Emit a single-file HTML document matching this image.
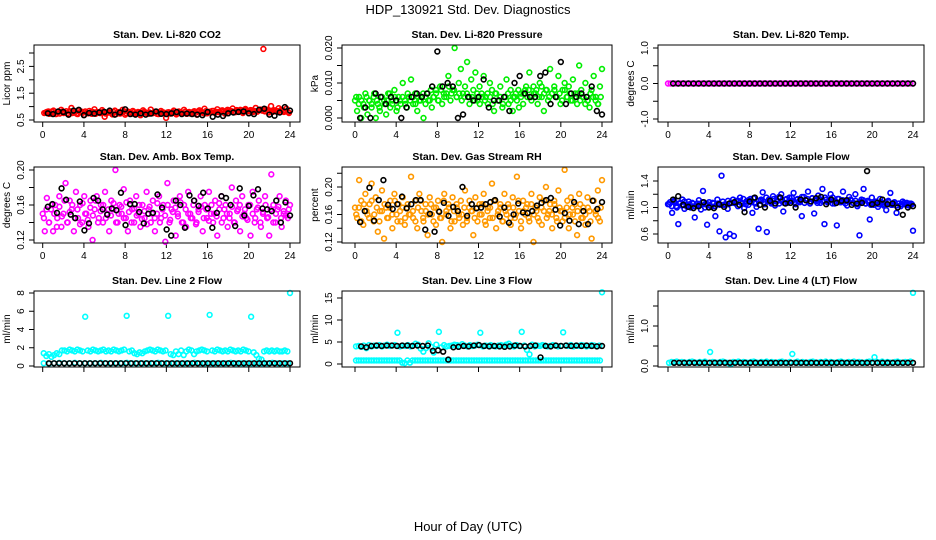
<!DOCTYPE html>
<html><head><meta charset="utf-8"><style>
html,body{margin:0;padding:0;background:#fff;}
svg{display:block;font-family:"Liberation Sans",sans-serif;}
</style></head><body>
<svg id="chart" width="936" height="540" viewBox="0 0 936 540" xmlns="http://www.w3.org/2000/svg">
<text x="468" y="14" font-size="13" text-anchor="middle">HDP_130921  Std. Dev. Diagnostics</text>
<text x="468" y="531" font-size="13" text-anchor="middle">Hour of Day (UTC)</text>
</svg>
<script>
const xTicks=[0,4,8,12,16,20,24];
const co2Red=[.78,.82,.75,.85,.72,.80,.88,.76,.83,.70,.95,.79,.74,.86,.81,.69,.77,.84,.73,.90,.80,.76,.87,.62,.78,.83,.71,.85,.79,.74,.88,.70,.82,.77,.84,.75,.80,.68,.86,.78,.73,.89,.76,.81,.72,.84,.78,.58,.79,.74,.85,.71,.82,.77,.88,.73,.80,.76,.83,.70,.86,.78,.92,.75,.81,.84,.77,.90,.80,.86,.74,.88,.82,.93,.79,.85,.88,.76,.91,.83,.87,.80,.95,.84,.89,3.15,.90,.78,1.02,.86,.82,.94,.88,.80,.92,.76];
const co2Red2=[.76,.8,.73,.82,.77,.79,.74,.81,.78,.75,.83,.76,.79,.72,.8,.77,.82,.75,.78,.8,.73,.79,.76,.81,.74,.78,.77,.8,.72,.79,.76,.82,.75,.78,.73,.8,.77,.79,.74,.81,.76,.78,.75,.8,.73,.77,.79,.76,.78,.74,.8,.77,.75,.79,.76,.81,.78,.74,.8,.77,.82,.79,.76,.83,.8,.78,.84,.81,.79,.85,.82,.8,.86,.83,.81,.87,.84,.82,.88,.85,.83,.86,.84,.81,.88,.85,.82,.87,.84,.8,.86,.83,.81,.85,.82,.8];
const co2Black=[.75,.72,.82,.80,.70,.85,.88,.68,.76,.74,.78,.80,.85,.70,.78,.90,.72,.70,.75,.70,.74,.82,.73,.72,.75,.80,.72,.74,.72,.70,.68,.80,.62,.70,.65,.75,.78,.80,.82,.75,.72,.88,.92,.70,.66,.78,.98,.85];
const presGreen=[.005,.002,.006,0,.004,.007,.001,.005,.003,.006,0,.004,.002,.006,.005,.001,.007,.003,.005,.008,.002,.006,.004,.010,.005,.003,.006,.011,.004,.007,.002,.005,.006,0,.004,.007,.005,.003,.006,.008,.005,.009,.004,.006,.007,.012,.005,.008,.020,.006,.010,.014,.007,.009,.016,.006,.011,.008,.013,.005,.009,.007,.012,.006,.004,.010,.008,.002,.007,.005,.009,.003,.006,.011,.004,.008,.002,.006,.005,.003,.007,.004,.008,.006,.013,.005,.009,.007,.004,.010,.006,.002,.008,.005,.014,.007,.009,.006,.012,.004,.008,.010,.006,.009,.005,.011,.007,.004,.015,.008,.006,.010,.005,.003,.008,.012,.006,.004,.009,.014];
const presGreen2=[.006,.004,.005,.003,.006,.005,.004,.007,.005,.003,.006,.004,.005,.007,.004,.006,.003,.005,.006,.004,.007,.005,.006,.004,.006,.005,.007,.006,.005,.008,.006,.007,.005,.008,.007,.006,.009,.007,.008,.006,.007,.005,.006,.007,.004,.006,.005,.007,.004,.006,.005,.007,.006,.004,.007,.005,.006,.004,.006,.007,.005,.006,.007,.008,.006,.007,.009,.008,.006,.007,.008,.006,.009,.007,.008,.006,.007,.008,.006,.007,.005,.008,.006,.007,.005,.006,.007,.005,.006,.004,.005,.007,.006,.005,.004,.006];
const presBlack=[0,.003,0,.007,.006,.004,.006,.005,0,.003,.006,.007,.006,.007,.009,.019,.009,.010,.009,0,.001,.006,.005,.006,.011,.003,.005,.005,.006,.002,.010,.012,.007,.006,.006,.012,.013,.004,.006,.016,.004,.007,.006,.007,.006,.009,.002,.001];
const tempMag=[0,0,0,0,0,0,0,0,0,0,0,0,0,0,0,0,0,0,0,0,0,0,0,0,0,0,0,0,0,0,0,0,0,0,0,0,0,0,0,0,0,0,0,0,0,0,0,0,0,0,0,0,0,0,0,0,0,0,0,0,0,0,0,0,0,0,0,0,0,0,0,0,0,0,0,0,0,0,0,0,0,0,0,0,0,0,0,0,0,0,0,0,0,0,0,0];
const tempBlack=[0,0,0,0,0,0,0,0,0,0,0,0,0,0,0,0,0,0,0,0,0,0,0,0,0,0,0,0,0,0,0,0,0,0,0,0,0,0,0,0,0,0,0,0,0,0,0,0];
const boxMag=[.15,.13,.168,.14,.155,.13,.16,.145,.17,.135,.15,.185,.14,.165,.155,.13,.175,.145,.16,.14,.17,.15,.135,.165,.12,.155,.17,.145,.16,.14,.175,.15,.13,.165,.155,.20,.14,.16,.15,.178,.145,.13,.165,.155,.14,.17,.15,.135,.16,.145,.175,.155,.14,.165,.13,.15,.17,.145,.16,.118,.185,.14,.155,.165,.125,.15,.17,.14,.16,.135,.175,.15,.145,.165,.14,.155,.17,.13,.16,.145,.175,.15,.14,.165,.125,.155,.17,.145,.16,.135,.15,.18,.14,.165,.155,.13,.17,.15,.145,.16,.125,.175,.14,.155,.165,.135,.15,.17,.145,.125,.195,.16,.14,.155,.17,.135,.15,.165,.145,.16];
const boxMag2=[.145,.155,.14,.16,.15,.135,.158,.147,.165,.14,.152,.16,.145,.155,.138,.162,.15,.143,.157,.148,.165,.14,.153,.16,.145,.155,.148,.162,.14,.15,.158,.145,.163,.152,.14,.156,.148,.16,.144,.153,.138,.158,.15,.145,.162,.14,.155,.148,.16,.143,.152,.157,.147,.163,.14,.155,.15,.145,.16,.138,.152,.158,.145,.155,.142,.16,.15,.147,.162,.14,.155,.15,.145,.158,.14,.153,.16,.147,.155,.143,.16,.15,.145,.157,.14,.152,.16,.146,.155,.14,.15,.158,.145,.153,.148,.155];
const boxBlack=[.158,.161,.151,.179,.166,.149,.145,.164,.131,.139,.168,.165,.155,.149,.156,.154,.174,.137,.161,.161,.152,.139,.150,.151,.172,.157,.132,.125,.165,.160,.134,.171,.165,.159,.174,.156,.134,.151,.170,.168,.160,.136,.179,.148,.159,.171,.178,.156,.155,.153,.165,.140,.163,.148];
const rhOrange=[.17,.155,.21,.18,.145,.19,.16,.175,.205,.15,.185,.135,.165,.195,.125,.17,.155,.18,.14,.19,.16,.175,.15,.185,.145,.17,.16,.215,.155,.18,.14,.19,.165,.15,.175,.13,.185,.16,.17,.145,.18,.155,.12,.19,.165,.175,.14,.185,.15,.17,.16,.18,.145,.195,.155,.17,.165,.13,.185,.15,.175,.16,.19,.145,.17,.155,.205,.18,.14,.165,.175,.15,.19,.16,.17,.145,.185,.155,.215,.165,.14,.18,.16,.175,.15,.19,.12,.17,.155,.185,.145,.165,.2,.16,.175,.14,.18,.155,.195,.165,.15,.225,.17,.14,.185,.16,.175,.13,.19,.155,.17,.145,.185,.165,.125,.18,.16,.195,.15,.21];
const rhOrange2=[.16,.17,.15,.175,.165,.155,.18,.16,.17,.15,.165,.175,.155,.17,.16,.18,.15,.165,.17,.155,.175,.16,.165,.15,.17,.18,.155,.165,.16,.175,.15,.17,.165,.155,.18,.16,.17,.15,.165,.175,.155,.16,.17,.15,.18,.165,.155,.17,.16,.175,.15,.165,.17,.155,.18,.16,.17,.15,.165,.175,.155,.17,.16,.18,.15,.165,.17,.155,.175,.16,.165,.15,.17,.18,.155,.165,.16,.175,.15,.17,.165,.155,.18,.16,.17,.15,.165,.175,.155,.16,.17,.15,.18,.165,.155,.17];
const rhBlack=[.149,.165,.199,.151,.181,.21,.174,.168,.175,.186,.169,.175,.181,.181,.138,.161,.135,.164,.177,.158,.171,.165,.2,.158,.175,.169,.17,.175,.178,.181,.157,.17,.148,.16,.176,.163,.162,.165,.173,.177,.181,.184,.167,.144,.162,.151,.178,.146,.165,.146,.18,.168,.178];
const flowBlue=[1.05,1.08,.92,1.1,1.02,.75,1.07,1.12,.98,1.04,1.09,1.0,1.06,.85,1.03,1.11,.97,1.25,1.05,.74,1.08,1.01,1.06,.87,1.12,.64,1.48,1.04,.55,.98,.6,1.07,.57,1.1,1.02,1.15,1.06,.99,1.09,1.04,1.13,.92,1.07,1.01,.68,1.1,1.23,1.05,.63,1.12,1.08,1.17,1.03,1.1,1.06,1.2,.94,1.12,1.07,1.15,1.1,1.22,1.05,1.13,1.08,.87,1.16,1.11,1.24,1.06,1.14,.91,1.1,1.18,1.07,1.28,.75,1.12,1.09,1.2,1.15,1.06,.73,1.13,1.08,1.24,1.1,1.03,1.16,1.11,1.07,1.2,1.02,.58,1.12,1.28,1.06,1.1,.82,1.15,1.04,1.09,1.01,1.13,1.07,1.05,.96,1.1,1.22,1.04,1.08,.92,1.06,1.02,1.09,1.05,1.07,1.03,1.06,.65];
const flowBlue2=[1.05,1.02,1.08,1.0,1.06,1.03,1.09,1.01,1.05,1.07,1.02,1.06,1.04,1.08,1.0,1.05,1.03,1.07,1.02,1.06,1.04,1.09,1.05,1.1,1.07,1.12,1.06,1.1,1.08,1.13,1.05,1.11,1.08,1.14,1.06,1.1,1.12,1.08,1.15,1.1,1.06,1.13,1.09,1.16,1.1,1.07,1.13,1.1,1.15,1.08,1.12,1.1,1.16,1.07,1.13,1.09,1.14,1.11,1.07,1.12,1.1,1.15,1.08,1.12,1.06,1.1,1.13,1.08,1.11,1.06,1.1,1.12,1.07,1.1,1.05,1.09,1.11,1.06,1.08,1.04,1.07,1.09,1.05,1.08,1.03,1.06,1.08,1.04,1.07,1.03,1.06,1.05,1.07,1.04,1.06,1.05];
const flowBlack=[1.12,1.17,1.04,1.01,.99,1.02,1.08,1.0,.99,1.05,1.01,1.06,1.08,1.04,.93,1.09,1.15,1.04,1.0,1.1,1.06,1.15,1.06,1.07,1.0,1.12,1.11,1.09,1.14,1.16,1.05,1.12,1.07,1.1,1.11,1.04,1.06,1.07,1.55,1.05,1.07,1.12,1.05,1.06,1.0,.89,1.0,1.02];
const line2Cyan=[1.4,1.1,1.3,1.0,1.2,1.4,1.3,1.7,1.7,1.6,1.8,1.7,1.6,1.8,1.7,1.6,5.4,1.7,1.6,1.8,1.7,1.6,1.7,1.8,1.6,1.7,1.6,1.8,1.7,1.6,1.7,1.8,5.5,1.6,1.7,1.4,1.3,1.5,1.4,1.6,1.7,1.8,1.7,1.6,1.8,1.7,1.6,1.7,5.5,1.3,1.2,1.6,1.3,1.7,1.2,1.6,1.8,1.7,1.3,1.6,1.7,1.8,1.7,1.6,5.6,1.7,1.6,1.8,1.7,1.6,1.7,1.6,1.8,1.7,1.6,1.7,1.6,1.8,1.7,1.6,5.4,1.5,1.2,0.8,0.7,1.6,1.7,1.6,1.7,1.6,1.7,1.6,1.6,1.7,1.6,8.0];
const line2CyanLow=[.3,.25,.3,.35,.3,.3,.35,.3,.3,.3,.3,.35,.3,.3,.3,.3,.35,.3,.3,.3,.3,.3,.35,.3,.3,.3,.3,.3,.3,.35,.3,.3,.3,.3,.3,.3,.35,.3,.3,.3,.3,.3,.3,.3,.35,.3,.3,.3];
const line2Black=[.3,.3,.3,.3,.3,.3,.3,.3,.3,.3,.3,.3,.3,.3,.3,.3,.3,.3,.3,.3,.3,.3,.3,.3,.3,.3,.3,.3,.3,.3,.3,.3,.3,.3,.3,.3,.3,.3,.3,.3,.3,.3,.3,.3,.3,.3,.3,.3];
const line3CyanHigh=[4,4.1,3.9,4.2,3.6,4.3,4,4.2,4.1,4.3,4,4.2,4.4,4.1,4.2,4.3,7.1,4,4.2,4.1,4.3,4,4.2,4.6,4.4,3.5,2.8,3.6,4.7,3.9,2.6,4.4,7.3,3.8,4.3,4,4.1,4.2,4.4,4.3,4.1,4.5,4.2,4,4.3,4.1,4.2,4.4,7.1,4,4.2,4.1,4.3,4.1,4,4.2,4.3,4.1,4.4,4.6,4.2,4,4.3,4.1,7.3,4.2,3.2,2.2,4.4,4,4.2,4.1,4.3,4.2,4,4.1,4.3,4.2,4,4.1,7.2,4.2,4.1,4.3,4,4.2,4.1,4.3,4.2,4,4.1,4.3,4.2,4,4.2,16.3];
const line3CyanLow=[.8,.8,.8,.8,.8,.8,.8,.8,.8,.8,.8,.8,.8,.8,.8,.8,.8,.8,.3,.2,.8,.3,.8,.8,.8,.8,.8,.8,.8,.8,.8,.8,.8,.8,.8,.8,.8,.8,.8,.8,.8,.8,.8,.8,.8,.8,.8,.8,.8,.8,.8,.8,.8,.8,.8,.8,.8,.8,.8,.8,.8,.8,.8,.8,.8,.8,.8,.8,.8,.8,.8,.8,.8,.8,.8,.8,.8,.8,.8,.8,.8,.8,.8,.8,.8,.8,.8,.8,.8,.8,.8,.8,.8,.8,.8,.8];
const line3Black=[4,3.8,4.1,4.2,4.1,4.2,4.2,4.1,4.2,4.2,4.1,4.2,4.1,4.2,3,3.1,2.8,1,3.8,3.9,4.1,4,4.2,4.3,4.1,4,4.1,4,3.9,4,4.2,4.1,4,4.1,4.2,1.5,4.1,4,4.2,4.1,4.2,4.1,4.2,4.1,4.2,4.1,4,4.1];
const line4Cyan=[.08,.1,.09,.11,.08,.1,.09,.08,.1,.11,.09,.08,.1,.09,.11,.08,.35,.1,.09,.08,.1,.11,.09,.08,.04,.1,.09,.11,.08,.1,.09,.08,.1,.11,.09,.08,.1,.09,.11,.08,.1,.09,.08,.1,.11,.09,.08,.1,.3,.09,.11,.08,.1,.09,.08,.1,.11,.09,.08,.1,.09,.11,.08,.1,.09,.08,.1,.11,.09,.08,.1,.09,.11,.08,.1,.09,.08,.1,.11,.09,.22,.1,.09,.11,.08,.1,.09,.08,.1,.11,.09,.08,.1,.09,.11,1.83];
const line4Black=[.08,.08,.08,.08,.08,.08,.08,.08,.08,.08,.08,.08,.08,.08,.08,.08,.08,.08,.08,.08,.08,.08,.08,.08,.08,.08,.08,.08,.08,.08,.08,.08,.08,.08,.08,.08,.08,.08,.08,.08,.08,.08,.08,.08,.08,.08,.08,.08];

const NS="http://www.w3.org/2000/svg";
const svg=document.getElementById('chart');
function mk(tag,attrs,parent){const e=document.createElementNS(NS,tag);for(const k in attrs)e.setAttribute(k,attrs[k]);(parent||svg).appendChild(e);return e;}

const cols=[{l:34,r:300,x0:42.7,x24:290},{l:342,r:612,x0:355,x24:602},{l:658,r:924,x0:668,x24:913}];
const rows=[{t:45,b:122},{t:167,b:243},{t:291,b:367}];
const panels=[
 {key:'co2',title:'Stan. Dev. Li-820 CO2',ylab:'Licor ppm',c:0,r:0,ya:0.5,pa:120,yb:3.0,pb:53,ticks:[0.5,1,1.5,2,2.5,3],labs:['0.5','1.5','2.5'],labv:[0.5,1.5,2.5],series:[[co2Red,'#ff0000',0.3,23.9],[co2Red2,'#ff0000',0.15,23.8],[co2Black,'#000',0.5,24]]},
 {key:'pressure',title:'Stan. Dev. Li-820 Pressure',ylab:'kPa',c:1,r:0,ya:0,pa:118,yb:0.02,pb:48,ticks:[0,.005,.01,.015,.02],labs:['0.000','0.010','0.020'],labv:[0,.01,.02],series:[[presGreen,'#00ee00',0,24],[presGreen2,'#00ee00',0.12,23.88],[presBlack,'#000',0.5,24]]},
 {key:'temp',title:'Stan. Dev. Li-820 Temp.',ylab:'degrees C',c:2,r:0,ya:-1,pa:119,yb:1,pb:48,ticks:[-1,-.5,0,.5,1],labs:['-1.0','0.0','1.0'],labv:[-1,0,1],series:[[tempMag,'#ff00ff',0,24],[tempBlack,'#000',0.5,24]]},
 {key:'boxtemp',title:'Stan. Dev. Amb. Box Temp.',ylab:'degrees C',c:0,r:1,ya:.12,pa:240,yb:.2,pb:170,ticks:[.12,.14,.16,.18,.2],labs:['0.12','0.16','0.20'],labv:[.12,.16,.2],series:[[boxMag,'#ff00ff',0,24],[boxMag2,'#ff00ff',0.12,23.88],[boxBlack,'#000',0.5,24]]},
 {key:'rh',title:'Stan. Dev. Gas Stream RH',ylab:'percent',c:1,r:1,ya:.12,pa:242,yb:.2,pb:187,ticks:[.12,.14,.16,.18,.2,.22],labs:['0.12','0.16','0.20'],labv:[.12,.16,.2],series:[[rhOrange,'#ff9900',0,24],[rhOrange2,'#ff9900',0.12,23.88],[rhBlack,'#000',0.5,24]]},
 {key:'sampleflow',title:'Stan. Dev. Sample Flow',ylab:'ml/min',c:2,r:1,ya:.6,pa:234,yb:1.4,pb:181,ticks:[.6,.8,1,1.2,1.4],labs:['0.6','1.0','1.4'],labv:[.6,1,1.4],series:[[flowBlue,'#0000ff',0,24],[flowBlue2,'#0000ff',0.12,23.88],[flowBlack,'#000',0.5,24]]},
 {key:'line2',title:'Stan. Dev. Line 2 Flow',ylab:'ml/min',c:0,r:2,ya:0,pa:366,yb:8,pb:293,ticks:[0,2,4,6,8],labs:['0','2','4','6','8'],labv:[0,2,4,6,8],noX:true,series:[[line2Cyan,'#00ffff',0.1,24],[line2CyanLow,'#00ffff',0.1,23.8],[line2Black,'#000',0.6,24]]},
 {key:'line3',title:'Stan. Dev. Line 3 Flow',ylab:'ml/min',c:1,r:2,ya:0,pa:364,yb:15,pb:298,ticks:[0,5,10,15],labs:['0','5','10','15'],labv:[0,5,10,15],noX:true,series:[[line3CyanHigh,'#00ffff',0.1,24],[line3CyanLow,'#00ffff',0.1,23.8],[line3Black,'#000',0.6,24]]},
 {key:'line4',title:'Stan. Dev. Line 4 (LT) Flow',ylab:'ml/min',c:2,r:2,ya:0,pa:366,yb:1,pb:326,ticks:[0,.5,1,1.5],labs:['0.0','1.0'],labv:[0,1],noX:true,series:[[line4Cyan,'#00ffff',0.1,24],[line4Black,'#000',0.6,24]]}
];

panels.forEach(p=>{
 const C=cols[p.c],R=rows[p.r];
 const xs=h=>C.x0+(C.x24-C.x0)*h/24;
 const ys=v=>p.pa+(p.pb-p.pa)*(v-p.ya)/(p.yb-p.ya);
 const g=mk('g',{});
 
 
 const t=mk('text',{x:(C.l+C.r)/2,y:R.t-7,'font-size':10.5,'font-weight':'bold','text-anchor':'middle'},g);
 t.textContent=p.title;
 
 
 const cx=C.l-24,cy=(R.t+R.b)/2;
 const yl=mk('text',{x:cx,y:cy,'font-size':10,'text-anchor':'middle',transform:'rotate(-90 '+cx+' '+cy+')'},g);
 yl.textContent=p.ylab;
 
 
 const ya=mk('g',{stroke:'#000','stroke-width':1},g);
 
 
 mk('line',{x1:C.l,x2:C.l,y1:ys(p.ticks[0]),y2:ys(p.ticks[p.ticks.length-1])},ya);
 p.ticks.forEach(v=>{mk('line',{x1:C.l-5,x2:C.l,y1:ys(v),y2:ys(v)},ya);});
 p.labv.forEach((v,i)=>{const lx=C.l-10,ly=ys(v);
  const tl=mk('text',{x:lx,y:ly,'font-size':10,'text-anchor':'middle',stroke:'none',fill:'#000',transform:'rotate(-90 '+lx+' '+ly+')'},ya);
  tl.textContent=p.labs[i];
  
  });
 const xa=mk('g',{stroke:'#000','stroke-width':1},g);
 
 
 mk('line',{x1:xs(0),x2:xs(24),y1:R.b,y2:R.b},xa);
 xTicks.forEach(h=>{mk('line',{x1:xs(h),x2:xs(h),y1:R.b,y2:R.b+5},xa);
  if(!p.noX){const tl=mk('text',{x:xs(h),y:R.b+16,'font-size':10,'text-anchor':'middle',stroke:'none',fill:'#000'},xa);
   tl.textContent=String(h);
   
   }});
 p.series.forEach((s,si)=>{
  const [vals,col,h0,h1]=s;
  const sg=mk('g',{fill:'none',stroke:col,'stroke-width':1.6},g);
  
  
  const n=vals.length;
  vals.forEach((v,i)=>{const h=h0+(h1-h0)*(n>1?i/(n-1):0);
   const c=mk('circle',{cx:xs(h),cy:ys(v),r:2.4},sg);
   
   });
 });
 const bx=mk('rect',{x:C.l,y:R.t,width:C.r-C.l,height:R.b-R.t,fill:'none',stroke:'#000','stroke-width':1},g);
 
 
});
</script>
</body></html>
